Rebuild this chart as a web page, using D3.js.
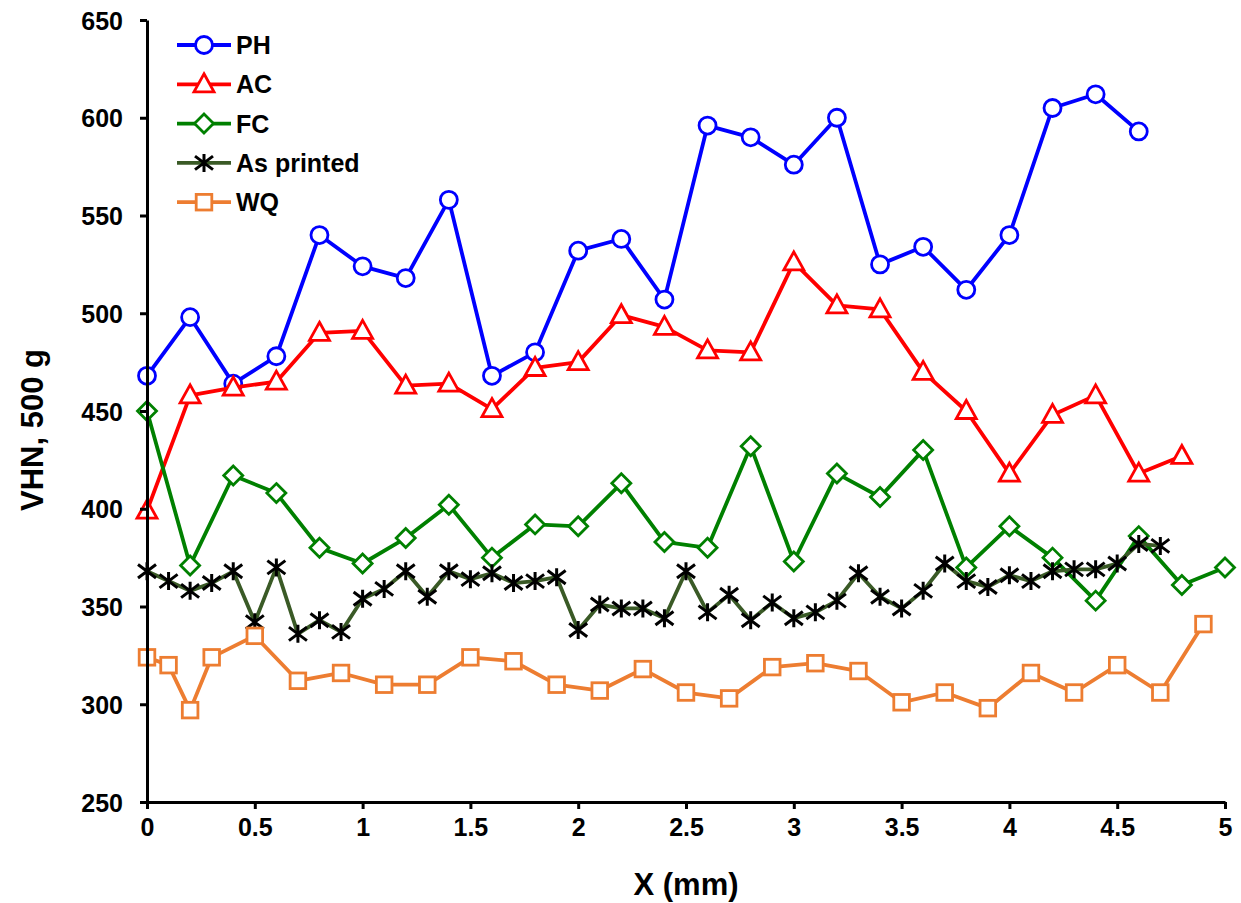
<!DOCTYPE html>
<html>
<head>
<meta charset="utf-8">
<script src="https://cdn.jsdelivr.net/npm/d3@7"></script>
<style>
  html, body { margin: 0; padding: 0; background: #fff; }
  svg { display: block; font-family: "Liberation Sans", Arial, sans-serif; }
</style>
</head>
<body>
<svg id="chart" width="1241" height="903"></svg>
<script>
// ---------- data ----------
const phX = [0,0.2,0.4,0.6,0.8,1.0,1.2,1.4,1.6,1.8,2.0,2.2,2.4,2.6,2.8,3.0,3.2,3.4,3.6,3.8,4.0,4.2,4.4,4.6];
const phY = [468,498,464,478,540,524,518,558,468,480,532,538,507,596,590,576,600,525,534,512,540,605,612,593];

const acX = [0,0.2,0.4,0.6,0.8,1.0,1.2,1.4,1.6,1.8,2.0,2.2,2.4,2.6,2.8,3.0,3.2,3.4,3.6,3.8,4.0,4.2,4.4,4.6,4.8];
const acY = [399,458,462,465,490,491,463,464,451,472,475,499,493,481,480,526,504,502,470,450,418,448,458,418,427];

const fcX = [0,0.2,0.4,0.6,0.8,1.0,1.2,1.4,1.6,1.8,2.0,2.2,2.4,2.6,2.8,3.0,3.2,3.4,3.6,3.8,4.0,4.2,4.4,4.6,4.8,5.0];
const fcY = [450,371,417,408,380,372,385,402,375,392,391,413,383,380,432,373,418,406,430,370,391,375,353,386,361,370];

const apX = [0,0.1,0.2,0.3,0.4,0.5,0.6,0.7,0.8,0.9,1.0,1.1,1.2,1.3,1.4,1.5,1.6,1.7,1.8,1.9,2.0,2.1,2.2,2.3,2.4,2.5,2.6,2.7,2.8,2.9,3.0,3.1,3.2,3.3,3.4,3.5,3.6,3.7,3.8,3.9,4.0,4.1,4.2,4.3,4.4,4.5,4.6,4.7];
const apY = [368,363,358,362,368,342,370,336,343,337,354,359,368,355,368,364,367,362,363,365,338,351,349,349,344,368,347,356,343,352,344,347,353,367,355,349,358,372,363,360,366,363,368,369,369,372,382,381];

const wqX = [0,0.1,0.2,0.3,0.5,0.7,0.9,1.1,1.3,1.5,1.7,1.9,2.1,2.3,2.5,2.7,2.9,3.1,3.3,3.5,3.7,3.9,4.1,4.3,4.5,4.7,4.9];
const wqY = [324,320,297,324,335,312,316,310,310,324,322,310,307,318,306,303,319,321,317,301,306,298,316,306,320,306,341];

const seriesNames = ["PH","AC","FC","As printed","WQ"];
const xTicks = [0,0.5,1,1.5,2,2.5,3,3.5,4,4.5,5];
const xTickLabels = ["0","0.5","1","1.5","2","2.5","3","3.5","4","4.5","5"];
const yTicks = [250,300,350,400,450,500,550,600,650];
const xTitle = "X (mm)";
const yTitle = "VHN, 500 g";

// ---------- styles ----------
const styles = {
  "PH":         {line:"#0000ff", mark:"#0000ff", shape:"circle"},
  "AC":         {line:"#ff0000", mark:"#ff0000", shape:"triangle"},
  "FC":         {line:"#008000", mark:"#008000", shape:"diamond"},
  "As printed": {line:"#3a5a26", mark:"#000000", shape:"asterisk"},
  "WQ":         {line:"#ed7d31", mark:"#ed7d31", shape:"square"}
};
const series = [
  {name:"PH", xs:phX, ys:phY},
  {name:"AC", xs:acX, ys:acY},
  {name:"FC", xs:fcX, ys:fcY},
  {name:"As printed", xs:apX, ys:apY},
  {name:"WQ", xs:wqX, ys:wqY}
];

const svg = d3.select("#chart");
const x = d3.scaleLinear().domain([0,5]).range([147,1225]);
const y = d3.scaleLinear().domain([250,650]).range([802,20]);

function drawMarker(g, shape, color, cx, cy) {
  if (shape === "circle") {
    g.append("circle").attr("cx",cx).attr("cy",cy).attr("r",8.5)
      .attr("fill","#fff").attr("stroke",color).attr("stroke-width",2.8);
  } else if (shape === "triangle") {
    const s = 9.5;
    g.append("path").attr("d",`M${cx},${cy-s-1}L${cx+s+0.5},${cy+s-2}L${cx-s-0.5},${cy+s-2}Z`)
      .attr("fill","#fff").attr("stroke",color).attr("stroke-width",2.8).attr("stroke-linejoin","miter");
  } else if (shape === "diamond") {
    const s = 9.5;
    g.append("path").attr("d",`M${cx},${cy-s}L${cx+s},${cy}L${cx},${cy+s}L${cx-s},${cy}Z`)
      .attr("fill","#fff").attr("stroke",color).attr("stroke-width",2.8);
  } else if (shape === "square") {
    const s = 7.8;
    g.append("rect").attr("x",cx-s).attr("y",cy-s).attr("width",2*s).attr("height",2*s)
      .attr("fill","#fff").attr("stroke",color).attr("stroke-width",2.8);
  } else if (shape === "asterisk") {
    const s = 9;
    const d = `M${cx-s},${cy-s*0.75}L${cx+s},${cy+s*0.75}M${cx-s},${cy+s*0.75}L${cx+s},${cy-s*0.75}M${cx},${cy-s}L${cx},${cy+s}`;
    g.append("path").attr("d",d).attr("stroke",color).attr("stroke-width",3).attr("fill","none");
  }
}

// ---------- series ----------
const lineGen = d3.line().x(d=>x(d[0])).y(d=>y(d[1]));
series.forEach(s => {
  const st = styles[s.name];
  const pts = s.xs.map((v,i)=>[v, s.ys[i]]);
  const g = svg.append("g");
  g.append("path").attr("d", lineGen(pts)).attr("fill","none")
    .attr("stroke", st.line).attr("stroke-width",3.8).attr("stroke-linejoin","round");
  pts.forEach(p => drawMarker(g, st.shape, st.mark, x(p[0]), y(p[1])));
});

// ---------- axes ----------
const xAxis = d3.axisBottom(x).tickValues(xTicks).tickFormat((d,i)=>xTickLabels[i]).tickSize(7).tickSizeOuter(0).tickPadding(9);
const yAxis = d3.axisLeft(y).tickValues(yTicks).tickFormat(d3.format("d")).tickSize(7).tickSizeOuter(0).tickPadding(17);

const gx = svg.append("g").attr("transform","translate(0,802)").call(xAxis);
const gy = svg.append("g").attr("transform","translate(147,0)").call(yAxis);
[gx, gy].forEach(g => {
  g.select(".domain").attr("stroke","#000").attr("stroke-width",3);
  g.selectAll(".tick line").attr("stroke","#000").attr("stroke-width",3);
  g.selectAll(".tick text").attr("fill","#000").style("font-size","25px").style("font-weight","bold")
    .style("font-family",'"Liberation Sans", Arial, sans-serif');
});
gy.selectAll(".tick text").attr("dy","0.36em");

svg.append("text").attr("x",686).attr("y",895).attr("text-anchor","middle")
  .style("font-size","31px").style("font-weight","bold").text(xTitle);
svg.append("text").attr("transform","translate(43,430) rotate(-90)").attr("text-anchor","middle")
  .style("font-size","31px").style("font-weight","bold").text(yTitle);

// ---------- legend ----------
const legend = svg.append("g");
seriesNames.forEach((name,i) => {
  const st = styles[name];
  const cy = 45 + i*39.3;
  legend.append("line").attr("x1",177).attr("x2",231).attr("y1",cy).attr("y2",cy)
    .attr("stroke",st.line).attr("stroke-width",3.8);
  drawMarker(legend, st.shape, st.mark, 204, cy);
  legend.append("text").attr("x",236).attr("y",cy).attr("dy","0.36em")
    .style("font-size","25px").style("font-weight","bold").text(name);
});
</script>
</body>
</html>
